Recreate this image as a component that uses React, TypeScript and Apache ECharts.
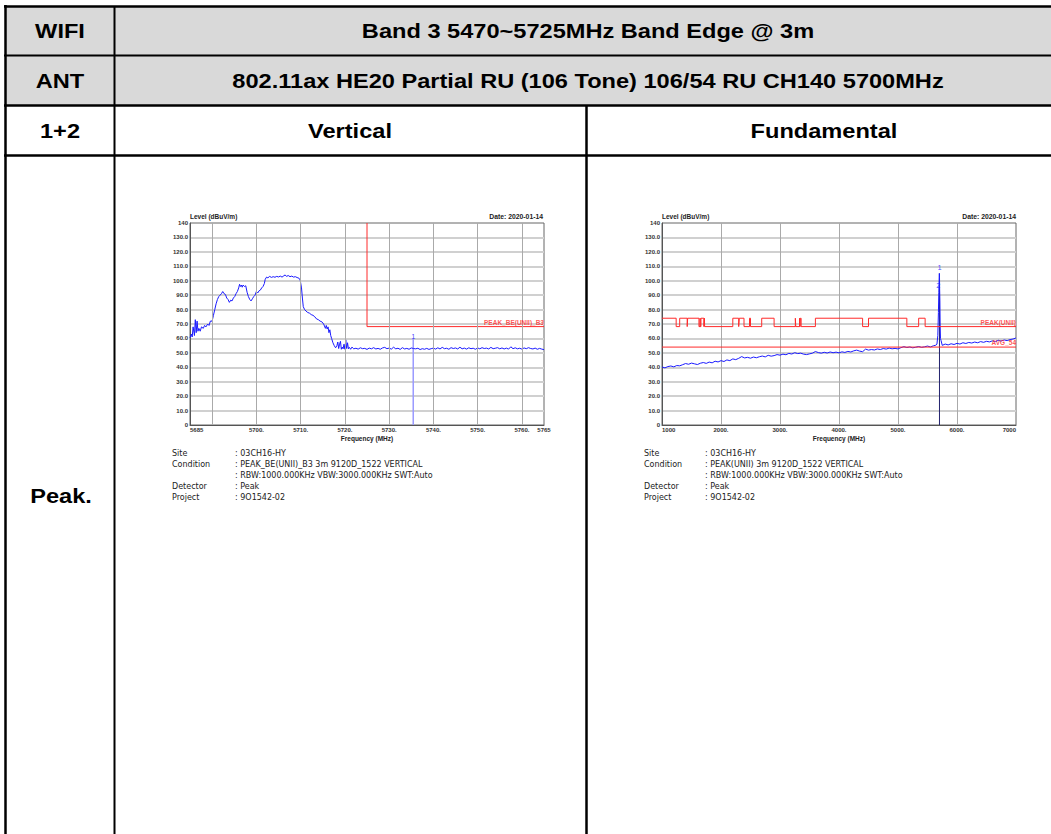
import React, { useEffect, useRef } from "react";
import * as echarts from "echarts";

// ---------- Left chart (band edge, vertical) ----------
const leftFreq = [
  5685.0, 5685.3, 5685.5, 5685.7, 5686.0, 5686.2, 5686.4, 5686.6, 5686.8, 5687.0, 5687.3, 5687.6, 5688.0, 5688.3, 5688.6,
  5689.0, 5689.3, 5689.6, 5690.0, 5690.3, 5690.6, 5690.9, 5691.2, 5691.5, 5691.8, 5692.1, 5692.4, 5692.7, 5693.0, 5693.3,
  5693.6, 5693.9, 5694.2, 5694.5, 5694.8, 5695.1, 5695.4, 5695.7, 5696.0, 5696.2, 5696.4, 5696.6, 5696.8, 5697.0, 5697.3,
  5697.6, 5697.9, 5698.2, 5698.5, 5698.8, 5699.1, 5699.4, 5699.7, 5700.0, 5700.3, 5700.6, 5700.9, 5701.2, 5701.5, 5701.8,
  5702.0, 5702.3, 5702.6, 5703.0, 5703.4, 5703.8, 5704.2, 5704.6, 5705.0, 5705.4, 5705.8, 5706.2, 5706.5, 5706.8, 5707.2,
  5707.6, 5708.0, 5708.4, 5708.8, 5709.2, 5709.6, 5709.9, 5710.2, 5710.4, 5710.6, 5710.9, 5711.2, 5711.6, 5712.0, 5712.4,
  5712.8, 5713.2, 5713.6, 5714.0, 5714.4, 5714.8, 5715.2, 5715.6, 5715.8, 5716.0, 5716.2, 5716.4, 5716.6, 5716.8, 5717.0,
  5717.3, 5717.6, 5717.9, 5718.2, 5718.4, 5718.6, 5718.8, 5719.0, 5719.2, 5719.4, 5719.6, 5719.8, 5720.0, 5720.2, 5720.4,
  5720.6, 5720.8, 5721.0, 5721.3, 5721.6, 5722.0, 5722.5, 5723.0, 5723.5, 5724.0, 5724.5, 5725.0, 5725.5, 5726.0, 5726.5,
  5727.0, 5727.5, 5728.0, 5728.5, 5729.0, 5729.5, 5730.0, 5730.5, 5731.0, 5731.5, 5732.0, 5732.5, 5733.0, 5733.5, 5734.0,
  5734.5, 5735.0, 5735.5, 5736.0, 5736.5, 5737.0, 5737.5, 5738.0, 5738.5, 5739.0, 5739.5, 5740.0, 5740.5, 5741.0, 5741.5,
  5742.0, 5742.5, 5743.0, 5743.5, 5744.0, 5744.5, 5745.0, 5745.5, 5746.0, 5746.5, 5747.0, 5747.5, 5748.0, 5748.5, 5749.0,
  5749.5, 5750.0, 5750.5, 5751.0, 5751.5, 5752.0, 5752.5, 5753.0, 5753.5, 5754.0, 5754.5, 5755.0, 5755.5, 5756.0, 5756.5,
  5757.0, 5757.5, 5758.0, 5758.5, 5759.0, 5759.5, 5760.0, 5760.5, 5761.0, 5761.5, 5762.0, 5762.5, 5763.0, 5763.5, 5764.0,
  5764.5, 5765.0,
];
const leftLevel = [
  60.5, 63, 61, 68, 62, 73, 64, 72, 65, 67, 65, 68, 67, 69, 68,
  70, 69, 72, 72, 76, 80, 84, 87, 89, 90, 91, 92.5, 91, 90.5, 88,
  87, 85, 86.5, 86, 88, 89, 91, 92.5, 95, 97.5, 96, 97, 95.5, 97, 96,
  96.5, 92, 89, 87, 86, 87.5, 89, 90, 92.5, 91.5, 93, 93.5, 95, 96, 98,
  101, 102.5, 102, 103, 102.3, 102.8, 102.4, 103, 102.6, 103.2, 102.5, 103.4, 104, 103, 103.6,
  102.8, 103.2, 102.5, 102.8, 102.2, 101.8, 100.5, 95, 88, 82, 80, 79, 78, 77.5, 76.5,
  76, 75, 73.5, 73, 72, 71.5, 70, 67, 69, 66.5, 68, 64, 66, 62, 60,
  57, 55, 53.5, 55, 57.5, 53, 56, 58, 52.5, 54, 52.8, 56, 52.5, 59, 53,
  57, 52.8, 53.8, 52.5, 54, 52.8, 53.2, 52.6, 53.5, 52.9, 53.1, 52.4, 53.3, 52.8, 53.6,
  52.7, 53.1, 52.5, 53.4, 53.8, 52.9, 53.3, 52.6, 53.9, 52.8, 53.2, 52.4, 53.6, 52.7, 53.1,
  52.5, 53.4, 53.0, 52.8, 53.2, 52.3, 52.9, 52.5, 53.1, 52.4, 52.9, 53.3, 52.6, 53.5, 52.7,
  53.8, 52.9, 53.2, 52.5, 53.6, 53.0, 53.4, 52.7, 53.9, 52.8, 53.3, 52.6, 53.5, 52.9, 53.2,
  52.5, 53.4, 52.8, 53.6, 53.0, 53.3, 52.7, 53.8, 52.9, 53.2, 53.6, 52.8, 53.4, 52.7, 53.3,
  52.6, 54.2, 52.9, 53.5, 52.8, 53.2, 52.6, 53.4, 52.9, 53.6, 53.0, 52.7, 53.3, 52.5, 53.1,
  52.6, 52.2,
];
const leftGridX = [5690, 5700, 5710, 5720, 5730, 5740, 5750, 5760];
const leftLimitFreq = [5725, 5725, 5765];
const leftLimitLevel = [140, 68.2, 68.2];
const leftMarkerFreq = 5735.45;
const leftMarkerLevel = 60;

// ---------- Right chart (fundamental) ----------
const rightFreq = [
  1000, 1050, 1100, 1150, 1200, 1250, 1300, 1350, 1400, 1450, 1500, 1550, 1600, 1650, 1700, 1750, 1800, 1850, 1900, 1950,
  2000, 2050, 2100, 2150, 2200, 2250, 2300, 2350, 2400, 2450, 2500, 2550, 2600, 2650, 2700, 2750, 2800, 2850, 2900, 2950,
  3000, 3050, 3100, 3150, 3200, 3250, 3300, 3350, 3400, 3450, 3500, 3550, 3600, 3650, 3700, 3750, 3800, 3850, 3900, 3950,
  4000, 4050, 4100, 4150, 4200, 4250, 4300, 4350, 4400, 4450, 4500, 4550, 4600, 4650, 4700, 4750, 4800, 4850, 4900, 4950,
  5000, 5050, 5100, 5150, 5200, 5250, 5300, 5350, 5400, 5450, 5500, 5550, 5600, 5640, 5660, 5675, 5685, 5692, 5697, 5700,
  5703, 5706, 5710, 5714, 5720, 5730, 5750, 5800, 5850, 5900, 5950, 6000, 6050, 6100, 6150, 6200, 6250, 6300, 6350, 6400,
  6450, 6500, 6550, 6600, 6650, 6700, 6750, 6800, 6850, 6900, 6950, 7000,
];
const rightLevel = [
  40.2, 39.6, 40.5, 40.9, 40.3, 41.2, 41.0, 41.8, 42.6, 42.1, 42.9, 42.4, 41.9, 42.8, 43.3, 42.7, 43.6, 43.1, 44.2, 43.7,
  44.6, 44.0, 45.1, 44.6, 45.8, 45.3, 46.2, 47.4, 46.5, 46.9, 46.3, 47.1, 46.6, 47.3, 47.8, 47.2, 48.3, 47.7, 48.1, 48.8,
  48.4, 49.1, 48.7, 49.6, 49.2, 50.1, 49.5, 49.8, 49.1, 48.8, 49.3, 49.8, 50.9, 50.2, 49.8, 50.4, 49.9, 50.6, 50.1, 50.5,
  50.0, 50.7, 50.3, 51.0, 50.6, 51.4, 51.9, 51.2, 50.8, 52.6, 51.9, 52.3, 52.0, 52.7, 52.3, 53.0, 52.6, 53.3, 52.8, 53.1,
  52.7, 53.6, 54.3, 53.7, 54.1, 53.5, 53.9, 54.4, 53.8, 54.2, 54.7, 54.1, 54.9, 55.3, 56.0, 62.0, 78.0, 92.0, 100.0, 105.0,
  104.0, 94.0, 86.0, 70.0, 60.0, 58.5, 55.2, 56.1, 55.5, 56.3, 55.8, 56.6, 56.1, 57.0, 56.5, 57.2, 56.8, 57.5, 57.0, 57.8,
  57.3, 58.0, 57.6, 58.3, 57.8, 58.7, 58.2, 58.9, 58.5, 59.2, 59.6, 60.3,
];
// restricted-band edges (MHz); levels alternate per segment
const rightLimitEdges = [
  1000, 1240, 1300, 1427, 1435, 1626.5, 1645.5, 1646.5, 1660, 1710, 1718.8, 1722.2, 2200, 2300, 2310, 2390, 2483.5,
  2500, 2690, 2900, 3260, 3267, 3332, 3339, 3345.8, 3358, 3600, 4400, 4500, 5150, 5350, 5460, 7000,
];
const rightLimitLevels = [
  74, 68.2, 74, 68.2, 74, 68.2, 74, 68.2, 74, 68.2, 74, 68.2, 74, 68.2, 74, 68.2, 74, 68.2, 74, 68.2, 74, 68.2, 74, 68.2,
  74, 68.2, 74, 68.2, 74, 68.2, 74, 68.2,
];
const rightAvgFreq = [1000, 7000];
const rightAvgLevel = [54, 54];
const rightMarkerFreq = 5703;
const rightMarkerLevel = 105;
const rightMarker2Level = 93;

const yTicks = { min: 0, max: 140, interval: 10 };

const infoLabels = ["Site", "Condition", "", "Detector", "Project"];
const leftInfoValues = [
  ": 03CH16-HY",
  ": PEAK_BE(UNII)_B3 3m 9120D_1522 VERTICAL",
  ": RBW:1000.000KHz VBW:3000.000KHz SWT:Auto",
  ": Peak",
  ": 9O1542-02",
];
const rightInfoValues = [
  ": 03CH16-HY",
  ": PEAK(UNII) 3m 9120D_1522 VERTICAL",
  ": RBW:1000.000KHz VBW:3000.000KHz SWT:Auto",
  ": Peak",
  ": 9O1542-02",
];

const FONT = "Liberation Sans, Arial, sans-serif";
const RED = "#ff2a2a";
const BLUE = "#1a1aff";

function pairs(xs: number[], ys: number[]) {
  return xs.map((x, i) => [x, ys[i]]);
}

function stepPoints(edges: number[], levels: number[]) {
  const pts: number[][] = [];
  for (let i = 0; i < levels.length; i++) {
    pts.push([edges[i], levels[i]]);
    pts.push([edges[i + 1], levels[i]]);
  }
  return pts;
}

const axisText = { fontFamily: FONT, fontWeight: "bold", fontSize: 6, color: "#333" };

function yAxisDef(gridIndex: number) {
  return {
    type: "value",
    gridIndex,
    ...yTicks,
    name: "Level (dBuV/m)",
    nameLocation: "end",
    nameGap: 2,
    nameTextStyle: { ...axisText, fontSize: 6.5, align: "left", verticalAlign: "bottom", color: "#222" },
    axisLine: { show: true, lineStyle: { color: "#555", width: 1 } },
    axisTick: { show: false },
    axisLabel: {
      ...axisText,
      margin: 2,
      formatter: (v: number) => (v === 0 ? "0" : v === 140 ? "140" : v.toFixed(1)),
    },
    splitLine: { show: true, showMinLine: false, showMaxLine: false, lineStyle: { color: "#d0d0d0", width: 2 } },
  };
}

function annot(value: number[], text: string, color: string, size = 6.5) {
  return {
    value,
    label: {
      show: true,
      formatter: text,
      position: "top",
      align: "right",
      distance: 1,
      color,
      fontFamily: FONT,
      fontWeight: "bold",
      fontSize: size,
    },
  };
}

function markerLabel(value: number[], text: string) {
  return {
    value,
    label: {
      show: true,
      formatter: text,
      position: "top",
      align: "center",
      distance: 1,
      color: "#2020ff",
      fontFamily: FONT,
      fontSize: 7.5,
    },
  };
}

function tableGraphics() {
  const els: any[] = [];
  els.push({ type: "rect", shape: { x: 6, y: 6, width: 1060, height: 99 }, style: { fill: "#d9d9d9" }, z: -10 });
  const line = (x1: number, y1: number, x2: number, y2: number, w: number) =>
    els.push({ type: "line", shape: { x1, y1, x2, y2 }, style: { stroke: "#000", lineWidth: w }, z: 10 });
  line(4, 6.5, 1060, 6.5, 2.5);
  line(5.5, 5, 5.5, 834, 2.5);
  line(114.5, 6, 114.5, 834, 2);
  line(4, 55.5, 1060, 55.5, 2);
  line(4, 105.5, 1060, 105.5, 2.5);
  line(4, 155.5, 1060, 155.5, 2.5);
  line(586.5, 105, 586.5, 834, 2.5);
  const txt = (x: number, y: number, t: string) =>
    els.push({
      type: "text",
      x,
      y,
      scaleX: 1.18,
      style: { text: t, fill: "#000", font: `bold 20px ${FONT}`, align: "center", verticalAlign: "middle" },
      z: 10,
    });
  txt(60, 31, "WIFI");
  txt(588, 31, "Band 3 5470~5725MHz Band Edge @ 3m");
  txt(60, 81, "ANT");
  txt(588, 81, "802.11ax HE20 Partial RU (106 Tone) 106/54 RU CH140 5700MHz");
  txt(60, 131, "1+2");
  txt(350, 131, "Vertical");
  txt(824, 131, "Fundamental");
  txt(61, 496, "Peak.");
  return els;
}

function infoGraphics(labelX: number, valueX: number, values: string[]) {
  const els: any[] = [];
  infoLabels.forEach((l, i) => {
    const y = 453.5 + i * 11;
    if (l) {
      els.push({
        type: "text",
        x: labelX,
        y,
        style: { text: l, fill: "#222", font: `8px "DejaVu Sans", sans-serif`, verticalAlign: "middle" },
      });
    }
    els.push({
      type: "text",
      x: valueX,
      y,
      style: { text: values[i], fill: "#222", font: `8px "DejaVu Sans", sans-serif`, verticalAlign: "middle" },
    });
  });
  return els;
}

function dateText(x: number) {
  return {
    type: "text",
    x,
    y: 220,
    style: {
      text: "Date: 2020-01-14",
      fill: "#222",
      font: `bold 6.8px ${FONT}`,
      align: "right",
      verticalAlign: "bottom",
    },
  };
}

export default function App() {
  const ref = useRef<HTMLDivElement>(null);
  useEffect(() => {
    if (!ref.current) return;
    const chart = echarts.init(ref.current, undefined, { renderer: "svg" });
    const option: any = {
      animation: false,
      backgroundColor: "#fff",
      grid: [
        { left: 190, top: 223, width: 354, height: 202, show: true, borderColor: "#666", borderWidth: 1, backgroundColor: "transparent" },
        { left: 662, top: 223, width: 354, height: 202, show: true, borderColor: "#666", borderWidth: 1, backgroundColor: "transparent" },
      ],
      xAxis: [
        {
          type: "value",
          gridIndex: 0,
          min: 5685,
          max: 5765,
          interval: 5,
          name: "Frequency (MHz)",
          nameLocation: "middle",
          nameGap: 10,
          nameTextStyle: { ...axisText, fontSize: 6.5, verticalAlign: "top", color: "#222" },
          axisLine: { show: true, lineStyle: { color: "#555" } },
          axisTick: { show: false },
          splitLine: { show: false },
          axisLabel: {
            ...axisText,
            margin: 2,
            alignMinLabel: "left",
            formatter: (v: number) =>
              v === 5685 || v === 5765 ? String(v) : v % 10 === 0 && v >= 5700 ? v + "." : "",
          },
        },
        {
          type: "value",
          gridIndex: 1,
          min: 1000,
          max: 7000,
          interval: 1000,
          name: "Frequency (MHz)",
          nameLocation: "middle",
          nameGap: 10,
          nameTextStyle: { ...axisText, fontSize: 6.5, verticalAlign: "top", color: "#222" },
          axisLine: { show: true, lineStyle: { color: "#555" } },
          axisTick: { show: false },
          splitLine: { show: true, showMinLine: false, showMaxLine: false, lineStyle: { color: "#aaa", width: 1 } },
          axisLabel: {
            ...axisText,
            margin: 2,
            alignMinLabel: "left",
            alignMaxLabel: "right",
            formatter: (v: number) => (v === 1000 || v === 7000 ? String(v) : v + "."),
          },
        },
      ],
      yAxis: [yAxisDef(0), yAxisDef(1)],
      series: [
        {
          type: "line",
          xAxisIndex: 0,
          yAxisIndex: 0,
          data: [],
          z: 1,
          markLine: {
            silent: true,
            symbol: "none",
            label: { show: false },
            lineStyle: { color: "#aaa", width: 1, type: "solid" },
            data: leftGridX.map((v) => ({ xAxis: v })),
          },
        },
        {
          type: "line",
          xAxisIndex: 0,
          yAxisIndex: 0,
          data: pairs(leftFreq, leftLevel),
          showSymbol: false,
          lineStyle: { color: BLUE, width: 1 },
          z: 3,
        },
        {
          type: "line",
          xAxisIndex: 0,
          yAxisIndex: 0,
          data: [
            [leftMarkerFreq, 0],
            [leftMarkerFreq, leftMarkerLevel],
          ],
          showSymbol: false,
          lineStyle: { color: "#9a9aff", width: 1.5 },
          z: 2,
        },
        {
          type: "line",
          xAxisIndex: 0,
          yAxisIndex: 0,
          data: pairs(leftLimitFreq, leftLimitLevel),
          showSymbol: false,
          lineStyle: { color: RED, width: 1 },
          z: 4,
        },
        {
          type: "scatter",
          xAxisIndex: 0,
          yAxisIndex: 0,
          symbolSize: 0,
          clip: false,
          z: 5,
          data: [
            annot([5765, 68.2], "PEAK_BE(UNII)_B3", RED),
            markerLabel([leftMarkerFreq, leftMarkerLevel - 2], "1"),
          ],
        },
        {
          type: "line",
          xAxisIndex: 1,
          yAxisIndex: 1,
          data: pairs(rightFreq, rightLevel),
          showSymbol: false,
          lineStyle: { color: BLUE, width: 1 },
          z: 3,
        },
        {
          type: "line",
          xAxisIndex: 1,
          yAxisIndex: 1,
          data: [
            [rightMarkerFreq, 0],
            [rightMarkerFreq, rightMarkerLevel],
          ],
          showSymbol: false,
          lineStyle: { color: "#22226e", width: 1 },
          z: 2,
        },
        {
          type: "line",
          xAxisIndex: 1,
          yAxisIndex: 1,
          data: stepPoints(rightLimitEdges, rightLimitLevels),
          showSymbol: false,
          lineStyle: { color: RED, width: 1 },
          z: 4,
        },
        {
          type: "line",
          xAxisIndex: 1,
          yAxisIndex: 1,
          data: pairs(rightAvgFreq, rightAvgLevel),
          showSymbol: false,
          lineStyle: { color: RED, width: 1 },
          z: 4,
        },
        {
          type: "scatter",
          xAxisIndex: 1,
          yAxisIndex: 1,
          symbolSize: 0,
          clip: false,
          z: 5,
          data: [
            annot([7000, 68.2], "PEAK(UNII)", RED),
            annot([7000, 54], "AVG_54", RED),
            markerLabel([rightMarkerFreq, rightMarkerLevel + 1], "1"),
            markerLabel([rightMarkerFreq - 20, rightMarker2Level], "2"),
          ],
        },
      ],
      graphic: [
        ...tableGraphics(),
        dateText(543),
        dateText(1016),
        ...infoGraphics(172, 235, leftInfoValues),
        ...infoGraphics(644, 705, rightInfoValues),
      ],
    };
    chart.setOption(option);
    return () => chart.dispose();
  }, []);
  return (
    <div
      ref={ref}
      style={{ position: "fixed", left: 0, top: 0, width: 1051, height: 834, background: "#fff" }}
    />
  );
}
